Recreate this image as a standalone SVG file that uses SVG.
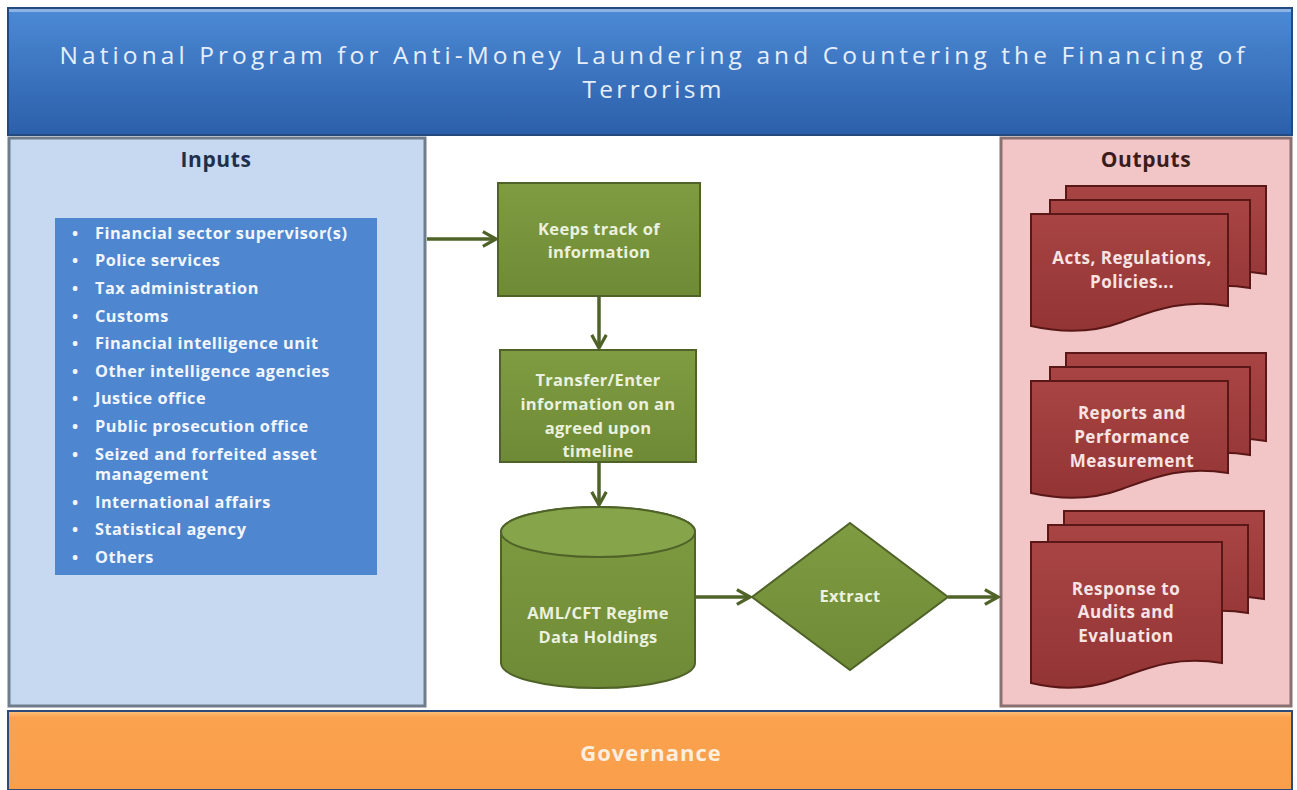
<svg xmlns="http://www.w3.org/2000/svg" width="1297" height="790" viewBox="0 0 1297 790">
<style>
.t{font-family:"Open Sans","Liberation Sans",sans-serif;font-weight:bold;text-anchor:middle}
.title{font-family:"Open Sans","Liberation Sans",sans-serif;font-size:24.5px;fill:#e6eef9;text-anchor:middle}
.head{font-size:21px;letter-spacing:0.6px}
.li{font-family:"Open Sans","Liberation Sans",sans-serif;font-weight:bold;font-size:16.3px;fill:#f2f6fc;letter-spacing:0.5px}
.g{font-size:16.5px;fill:#ebf1de;letter-spacing:0.3px}
.r{font-size:17px;fill:#f6e4e4;letter-spacing:0.5px}
.gs{fill:url(#green);stroke:#4f6228;stroke-width:2}
.page{fill:url(#red);stroke:#5a1717;stroke-width:2}
.conn{stroke:#4f6228;stroke-width:3.5;fill:none;marker-end:url(#ah)}
</style>
<defs>
<linearGradient id="blue" x1="0" y1="0" x2="0" y2="1"><stop offset="0" stop-color="#4c8ad6"/><stop offset="1" stop-color="#2c5fa9"/></linearGradient>
<linearGradient id="green" x1="0" y1="0" x2="0" y2="1"><stop offset="0" stop-color="#7f9c42"/><stop offset="1" stop-color="#6e8a36"/></linearGradient>
<linearGradient id="red" x1="0" y1="0" x2="0" y2="1"><stop offset="0" stop-color="#a84444"/><stop offset="1" stop-color="#933434"/></linearGradient>
<linearGradient id="orange" x1="0" y1="0" x2="0" y2="1"><stop offset="0" stop-color="#fdc57e"/><stop offset="0.08" stop-color="#fba24f"/><stop offset="1" stop-color="#f99f4c"/></linearGradient>
<marker id="ah" viewBox="0 0 12 12" refX="10" refY="6" markerWidth="5" markerHeight="5" orient="auto" markerUnits="strokeWidth"><path d="M1,1 L10,6 L1,11" fill="none" stroke="#4f6228" stroke-width="2.2"/></marker>
<path id="doc" d="M0,0 H200 V88 C150,80 120,95 90,108 C60,120 25,118 0,112 Z"/>
</defs>
<rect width="1297" height="790" fill="#ffffff"/>
<g id="title">
<rect x="8" y="8" width="1284" height="127" fill="url(#blue)" stroke="#23497f" stroke-width="2"/>
<rect x="9" y="9" width="1282" height="3" fill="#8db3e2"/>
<text class="title" x="652" y="64" textLength="1185" lengthAdjust="spacing">National Program for Anti-Money Laundering and Countering the Financing of</text>
<text class="title" x="652" y="98" textLength="139" lengthAdjust="spacing">Terrorism</text>
</g>
<g id="inputs">
<rect x="9" y="138" width="416" height="568" fill="#c6d9f1" stroke="#6f7c8c" stroke-width="3"/>
<text class="t head" x="216" y="167" fill="#1f2f4a">Inputs</text>
<rect x="55" y="218" width="322" height="357" fill="#4f86d0"/>
<g class="li">
<text x="72" y="239">•</text><text x="95" y="239">Financial sector supervisor(s)</text>
<text x="72" y="266">•</text><text x="95" y="266">Police services</text>
<text x="72" y="294">•</text><text x="95" y="294">Tax administration</text>
<text x="72" y="322">•</text><text x="95" y="322">Customs</text>
<text x="72" y="349">•</text><text x="95" y="349">Financial  intelligence  unit</text>
<text x="72" y="377">•</text><text x="95" y="377">Other intelligence agencies</text>
<text x="72" y="404">•</text><text x="95" y="404">Justice  office</text>
<text x="72" y="432">•</text><text x="95" y="432">Public prosecution office</text>
<text x="72" y="460">•</text><text x="95" y="460">Seized and forfeited asset</text>
<text x="95" y="480">management</text>
<text x="72" y="508">•</text><text x="95" y="508">International affairs</text>
<text x="72" y="535">•</text><text x="95" y="535">Statistical agency</text>
<text x="72" y="563">•</text><text x="95" y="563">Others</text>
</g>
</g>
<g id="outputs">
<rect x="1001" y="138" width="290" height="568" fill="#f2c6c6" stroke="#8a7070" stroke-width="3"/>
<text class="t head" x="1146" y="167" fill="#3b1c1c">Outputs</text>
</g>
<g id="keeps">
<rect class="gs" x="498" y="183" width="202" height="113"/>
<text class="t g" x="599" y="235">Keeps track of</text>
<text class="t g" x="599" y="258">information</text>
</g>
<g id="transfer">
<rect class="gs" x="500" y="350" width="196" height="112"/>
<text class="t g" x="598" y="386">Transfer/Enter</text>
<text class="t g" x="598" y="410">information on an</text>
<text class="t g" x="598" y="434">agreed upon</text>
<text class="t g" x="598" y="457">timeline</text>
</g>
<g id="datastore">
<path class="gs" d="M501,532 V663 A97,25 0 0 0 695,663 V532 A97,25 0 0 0 501,532 Z"/>
<ellipse cx="598" cy="532" rx="97" ry="25" fill="#86a54a" stroke="#4f6228" stroke-width="2"/>
<text class="t g" x="598" y="619">AML/CFT Regime</text>
<text class="t g" x="598" y="643">Data Holdings</text>
</g>
<g id="extract">
<polygon class="gs" points="850,523 948,597 850,670 752,597"/>
<text class="t g" x="850" y="602">Extract</text>
</g>
<g id="doc1">
<use href="#doc" class="page" x="1066" y="186"/>
<use href="#doc" class="page" x="1050" y="200"/>
<path class="page" d="M1031,214 H1228 V306 C1180,298 1150,312 1122,322 C1090,334 1058,332 1031,326 Z"/>
<text class="t r" x="1132" y="264">Acts, Regulations,</text>
<text class="t r" x="1132" y="288">Policies...</text>
</g>
<g id="doc2">
<use href="#doc" class="page" x="1066" y="353"/>
<use href="#doc" class="page" x="1050" y="367"/>
<path class="page" d="M1031,381 H1228 V473 C1180,465 1150,479 1122,489 C1090,501 1058,499 1031,493 Z"/>
<text class="t r" x="1132" y="419">Reports and</text>
<text class="t r" x="1132" y="443">Performance</text>
<text class="t r" x="1132" y="467">Measurement</text>
</g>
<g id="doc3">
<use href="#doc" class="page" x="1064" y="511"/>
<use href="#doc" class="page" x="1048" y="525"/>
<path class="page" d="M1031,542 H1222 V663 C1175,655 1145,669 1117,679 C1085,691 1056,689 1031,683 Z"/>
<text class="t r" x="1126" y="595">Response to</text>
<text class="t r" x="1126" y="618">Audits and</text>
<text class="t r" x="1126" y="642">Evaluation</text>
</g>
<g id="governance">
<rect x="8" y="711" width="1284" height="79" fill="url(#orange)" stroke="#2c4a7a" stroke-width="2"/>
<text class="t" x="651" y="761" style="font-size:22px;fill:#fdeedd;letter-spacing:1px">Governance</text>
</g>
<g id="connectors">
<line class="conn" x1="427" y1="239" x2="496" y2="239"/>
<line class="conn" x1="599" y1="296" x2="599" y2="348"/>
<line class="conn" x1="599" y1="462" x2="599" y2="505"/>
<line class="conn" x1="695" y1="597" x2="750" y2="597"/>
<line class="conn" x1="948" y1="597" x2="998" y2="597"/>
</g>
</svg>
